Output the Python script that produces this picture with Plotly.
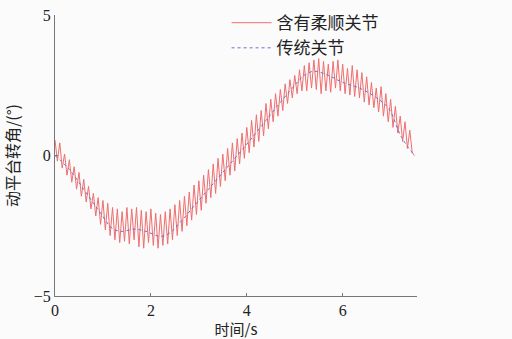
import plotly.graph_objects as go

# Blue dotted curve (traditional joint): key points
blue_t = [0.0, 0.3, 0.7, 0.95, 1.2, 1.4, 1.65, 1.9, 2.2, 2.4, 2.6, 3.0, 3.3, 3.65,
          4.0, 4.4, 4.9, 5.2, 5.4, 5.7, 6.0, 6.35, 6.7, 6.96, 7.23, 7.5]
blue_v = [0.0, -0.5, -1.45, -2.05, -2.6, -2.7, -2.62, -2.7, -2.88, -2.75, -2.4, -1.6, -1.0, -0.3,
          0.4, 1.25, 2.3, 2.85, 3.0, 2.85, 2.6, 2.4, 2.06, 1.67, 0.64, 0.0]

# Red curve (compliant joint), sampled every 0.05 s
red_dt = 0.05
red_v = [0.55, -0.2, 0.45, -0.45, 0.05, -0.7, -0.15, -0.95, -0.4, -1.2,
         -0.6, -1.45, -0.85, -1.65, -1.1, -1.9, -1.35, -2.15, -1.5, -2.45,
         -1.6, -2.65, -1.7, -2.85, -1.85, -3.0, -1.9, -3.1, -2.0, -3.05,
         -1.85, -3.15, -1.9, -3.0, -1.85, -3.25, -1.95, -3.3, -2.0, -3.1,
         -1.9, -3.2, -2.05, -3.3, -2.1, -3.2, -2.0, -3.15, -1.9, -3.0,
         -1.75, -2.85, -1.6, -2.7, -1.45, -2.5, -1.3, -2.3, -1.05, -2.1,
         -0.9, -1.95, -0.7, -1.7, -0.5, -1.5, -0.3, -1.35, -0.1, -1.1,
         0.05, -0.9, 0.25, -0.7, 0.45, -0.55, 0.6, -0.3, 0.8, -0.1,
         1.0, 0.1, 1.25, 0.3, 1.45, 0.5, 1.6, 0.7, 1.85, 0.95,
         2.0, 1.2, 2.2, 1.4, 2.35, 1.6, 2.55, 1.85, 2.7, 2.05,
         2.85, 2.2, 3.05, 2.3, 3.2, 2.3, 3.3, 2.4, 3.4, 2.35,
         3.45, 2.2, 3.35, 2.3, 3.25, 2.25, 3.35, 2.4, 3.4, 2.3,
         3.25, 2.2, 3.1, 2.15, 3.2, 2.1, 3.05, 2.05, 2.95, 1.9,
         2.8, 1.8, 2.6, 1.7, 2.4, 1.55, 2.45, 1.4, 2.2, 1.2,
         2.0, 1.0, 1.75, 0.8, 1.4, 0.5, 1.2, 0.25, 0.9, 0.1,
         0.0]
red_t = [round(i * red_dt, 2) for i in range(len(red_v))]

x_ticks = [0, 2, 4, 6]
y_ticks = [-5, 0, 5]
y_tick_text = ["\u22125", "0", "5"]

fig = go.Figure()
fig.add_trace(go.Scatter(x=red_t, y=red_v, mode="lines", name="含有柔顺关节",
                         line=dict(color="#f06e6e", width=1)))
fig.add_trace(go.Scatter(x=blue_t, y=blue_v, mode="lines", name="传统关节",
                         line=dict(color="#6f6fd0", width=1, dash="dot", shape="spline")))

axis_common = dict(showline=True, linecolor="#777777", linewidth=1, ticks="inside",
                   ticklen=3, tickcolor="#777777", showgrid=False, zeroline=False,
                   tickfont=dict(family="Liberation Serif", size=16, color="#222222"),
                   mirror=False, automargin=False)

fig.update_layout(
    width=512, height=339,
    margin=dict(l=55, r=95, t=15, b=43, autoexpand=False),
    paper_bgcolor="#fbfbfb", plot_bgcolor="#fbfbfb",
    xaxis=dict(range=[0, 7.55], tickvals=x_ticks, ticklabelstandoff=0,
               title=dict(text="时间/s", standoff=3,
                          font=dict(family="Noto Sans CJK SC", size=15, color="#222222")),
               **axis_common),
    yaxis=dict(range=[-5, 5], tickvals=y_ticks, ticktext=y_tick_text,
               title=dict(text="动平台转角/(°)", standoff=12,
                          font=dict(family="Noto Sans CJK SC", size=16, color="#222222")),
               **axis_common),
    legend=dict(x=0.474, y=1.035, xanchor="left", yanchor="top", bgcolor="rgba(0,0,0,0)",
                font=dict(family="Noto Sans CJK SC", size=17, color="#222222"),
                tracegroupgap=0, itemwidth=40),
    showlegend=True,
)

fig.write_html("out.html", config={"displayModeBar": False},
               post_script="document.body.style.margin='0px';")
